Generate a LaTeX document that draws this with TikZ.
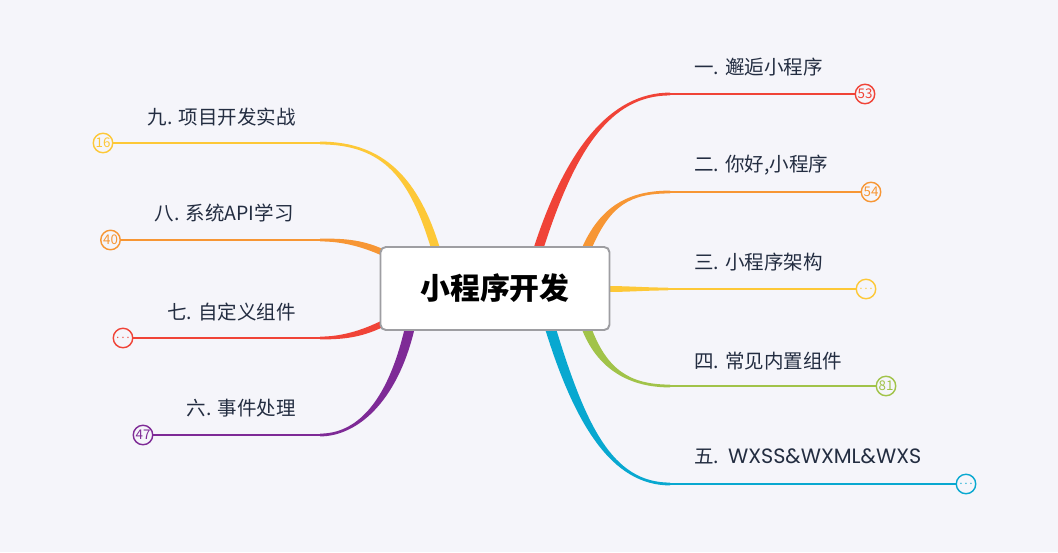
\documentclass[tikz,border=0pt]{standalone}
\usepackage{fontspec}
\setmainfont{Noto Sans CJK SC}
\newfontfamily\wideface{Poppins}
\usetikzlibrary{calc}
\definecolor{mapRed}{RGB}{240, 67, 55}
\definecolor{mapOrange}{RGB}{247, 150, 52}
\definecolor{mapYellow}{RGB}{253, 200, 55}
\definecolor{mapGreen}{RGB}{161, 195, 73}
\definecolor{mapCyan}{RGB}{8, 168, 208}
\definecolor{mapPurple}{RGB}{126, 42, 150}
\definecolor{mapText}{RGB}{35, 45, 65}
\definecolor{mapBorder}{RGB}{158, 158, 162}
\definecolor{mapBack}{RGB}{245, 245, 250}

% tapered stem: colour, root, control, control, knee, half width at the root
\newcommand\taper[6]{%
  \fill[#1] ($#2+#6$) .. controls ($#3+#6$) and ($#4+(0,-1.4)$) .. ($#5+(0,-1.4)$)
    -- ($#5+(0,1.4)$) .. controls ($#4+(0,1.4)$) and ($#3-#6$) .. ($#2-#6$) -- cycle;}
\newcommand\more{\makebox[0pt]{\fontsize{6}{6}\selectfont .\kern1.2pt.\kern1.2pt.}}

\begin{document}
\begin{tikzpicture}[
  x=0.02cm,
  y=-0.02cm,
  topic/.style={
    text=mapText,
    inner sep=0pt,
    font=\fontsize{11.1}{13}\selectfont
  },
  badge/.style={
    draw=#1,
    circle,
    line width=0.8pt,
    fill=mapBack,
    text=#1,
    minimum size=0.39cm,
    inner sep=0pt,
    font=\fontsize{7.6}{8}\selectfont
  },
  twig/.style={draw=#1,line width=0.04cm}
]
  \fill[mapBack] (0,0) rectangle (1058,552);

  % knees where the stems turn into lines
  \coordinate (k1) at (670,94);
  \coordinate (k2) at (670,192);
  \coordinate (k3) at (668,289);
  \coordinate (k4) at (670,386);
  \coordinate (k5) at (670,484);
  \coordinate (k6) at (320,435);
  \coordinate (k7) at (320,338);
  \coordinate (k8) at (320,240);
  \coordinate (k9) at (320,143);

  \taper{mapRed}{(538,250)}{(570,150)}{(610,94)}{(k1)}{(-5,0)}
  \taper{mapOrange}{(586,250)}{(605,205)}{(630,192)}{(k2)}{(-5,0)}
  \taper{mapYellow}{(605,289)}{(630,289)}{(645,289)}{(k3)}{(0,-3)}
  \taper{mapGreen}{(586,327)}{(602,370)}{(630,386)}{(k4)}{(5,0)}
  \taper{mapCyan}{(550,327)}{(580,425)}{(612,484)}{(k5)}{(5.5,0)}
  \taper{mapPurple}{(410,327)}{(392,405)}{(355,435)}{(k6)}{(-5,0)}
  \taper{mapRed}{(384,323)}{(360,335)}{(340,338)}{(k7)}{(0,-3.5)}
  \taper{mapOrange}{(384,253)}{(360,242)}{(340,240)}{(k8)}{(0,-3.5)}
  \taper{mapYellow}{(436,250)}{(415,180)}{(385,143)}{(k9)}{(4.5,0)}

  \node[draw=mapBorder,line width=1.1pt,rounded corners=3pt,fill=white,
    minimum width=4.58cm,minimum height=1.66cm,
    font=\fontsize{17}{20}\selectfont\bfseries] (root) at (495,288.5) {小程序开发};

  \node[badge=mapRed] (c1) at (865,94) {53};
  \node[badge=mapOrange] (c2) at (871,192) {54};
  \node[badge=mapYellow] (c3) at (866,289) {\more};
  \node[badge=mapGreen] (c4) at (886,386) {81};
  \node[badge=mapCyan] (c5) at (966,484) {\more};
  \node[badge=mapPurple] (c6) at (143,435) {47};
  \node[badge=mapRed] (c7) at (123,338) {\more};
  \node[badge=mapOrange] (c8) at (110.5,240) {40};
  \node[badge=mapYellow] (c9) at (103,143) {16};

  \draw[twig=mapRed] (k1) -- (c1);
  \draw[twig=mapOrange] (k2) -- (c2);
  \draw[twig=mapYellow] (k3) -- (c3);
  \draw[twig=mapGreen] (k4) -- (c4);
  \draw[twig=mapCyan] (k5) -- (c5);
  \draw[twig=mapPurple] (k6) -- (c6);
  \draw[twig=mapRed] (k7) -- (c7);
  \draw[twig=mapOrange] (k8) -- (c8);
  \draw[twig=mapYellow] (k9) -- (c9);

  \node[topic,anchor=west] (t1) at (694,67.5) {一. 邂逅小程序};
  \node[topic,anchor=west] (t2) at (694,165) {二. 你好,小程序};
  \node[topic,anchor=west] (t3) at (694,262.5) {三. 小程序架构};
  \node[topic,anchor=west] (t4) at (694,361) {四. 常见内置组件};
  \node[topic,anchor=west] (t5) at (694,456.5)
    {五.~~{\wideface\fontsize{11.8}{13}\selectfont WXSS\&WXML\&WXS}};
  \node[topic,anchor=east] (t6) at (296,408) {六. 事件处理};
  \node[topic,anchor=east] (t7) at (296,312) {七. 自定义组件};
  \node[topic,anchor=east] (t8) at (294,213) {八. 系统API学习};
  \node[topic,anchor=east] (t9) at (296,117) {九. 项目开发实战};
\end{tikzpicture}
\end{document}
